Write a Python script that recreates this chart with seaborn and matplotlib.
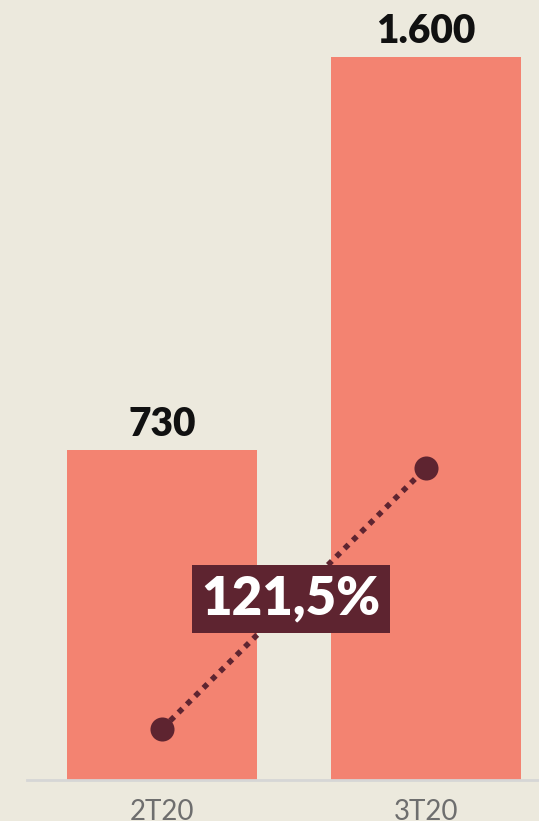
import matplotlib
matplotlib.use('Agg')
import matplotlib.pyplot as plt
import seaborn as sns
import pandas as pd

# chart data
quarters = ['2T20', '3T20']
values = [730, 1600]
value_labels = ['730', '1.600']
trend_points = [113, 690]   # dotted growth line, ends inside the bars
growth_label = '121,5%'

bg = '#ECE9DD'
bar_color = '#F38371'
maroon = '#5E2430'

sns.set_theme(style='white')
plt.rcParams['font.family'] = ['Lato', 'DejaVu Sans']

df = pd.DataFrame({'quarter': quarters, 'value': values})

fig = plt.figure(figsize=(5.39, 8.21), dpi=100, facecolor=bg)
ax = fig.add_axes([27 / 539, 41 / 821, 512 / 539, 780 / 821])
ax.set_facecolor(bg)

sns.barplot(x='quarter', y='value', data=df, color=bar_color, width=0.72,
            saturation=1, linewidth=0, edgecolor='none', ax=ax)

# value labels above bars
for i, (v, lab) in enumerate(zip(values, value_labels)):
    ax.annotate(lab, (i, v), xytext=(0, 5), textcoords='offset points',
                ha='center', va='bottom', fontsize=28, fontweight='heavy',
                color='#111111')

# dotted growth line between the two quarters
ax.plot([0, 1], trend_points, color=maroon, lw=4, linestyle=(0, (1, 1.1)),
        zorder=3)
ax.scatter([0, 1], trend_points, s=300, color=maroon, zorder=4, linewidth=0)

ax.text(0.49, (trend_points[0] + trend_points[1]) / 2 - 2, growth_label,
        ha='center', va='center', fontsize=38, fontweight='heavy',
        color='white', zorder=5,
        bbox=dict(boxstyle='square,pad=0.18', fc=maroon, ec='none'))

ax.set_xlim(-0.511, 1.428)
ax.set_ylim(0, 780 / (330 / 730))
ax.set_xlabel('')
ax.set_ylabel('')
ax.set_yticks([])
ax.tick_params(axis='x', length=0, pad=14, labelsize=20, labelcolor='#6e6e6e')
for side in ['top', 'left', 'right']:
    ax.spines[side].set_visible(False)
ax.spines['bottom'].set_color('#D6D6D6')
ax.spines['bottom'].set_linewidth(2)

fig.savefig('out.png', dpi=100, facecolor=bg)
